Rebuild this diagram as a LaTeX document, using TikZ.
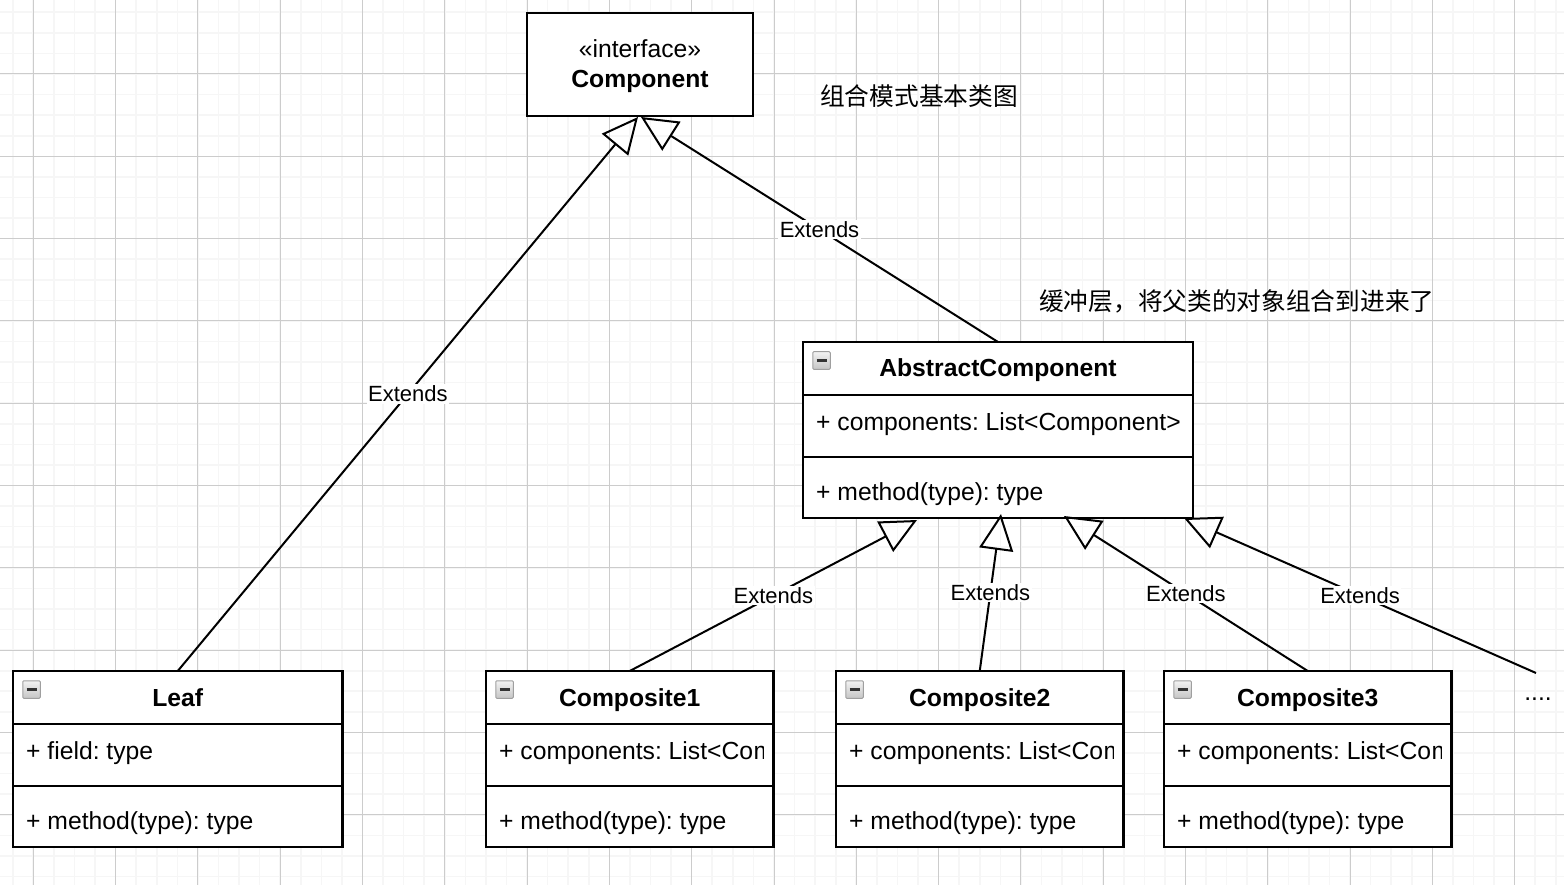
\documentclass[tikz,border=0pt]{standalone}
\usepackage{fontspec}
\setmainfont{Liberation Sans}
\newfontfamily\cjk{Noto Sans CJK SC}
\usetikzlibrary{arrows.meta,calc}
\frenchspacing
\tikzset{
  minorgrid/.style={line width=1.6pt, color=gray!7},
  majorgrid/.style={line width=1pt, color=gray!40},
  classbox/.style={draw, line width=2.3pt, fill=white, rectangle, inner sep=0pt, outer sep=0pt, anchor=north west, minimum height=176pt},
  divider/.style={line width=2.3pt},
  hdr/.style={font=\fontsize{24.7}{29}\selectfont\bfseries, inner sep=0pt, anchor=base},
  member/.style={font=\fontsize{24.7}{29}\selectfont, inner sep=0pt, anchor=base west},
  plain/.style={font=\fontsize{24.7}{29}\selectfont, inner sep=0pt, anchor=base},
  icon/.style={rectangle, draw=gray!75, line width=1pt, top color=gray!10, bottom color=gray!45, minimum width=17.5pt, minimum height=17.5pt, inner sep=0pt, rounded corners=1pt,
    path picture={\draw[line width=2.2pt, black!80] ([xshift=-5pt]path picture bounding box.center) -- ([xshift=5pt]path picture bounding box.center);}},
  ext/.style={line width=2pt, -{Triangle[open, length=36pt, width=34pt]}},
  lbl/.style={fill=white, inner sep=1.5pt, font=\fontsize{22}{26}\selectfont},
  note/.style={font=\cjk\fontsize{24.7}{29}\selectfont, inner sep=0pt, anchor=west},
}
\newcommand\umlclass[7]{%
  \node[classbox, minimum width=#4pt] (#1) at (#2,#3) {};
  \draw[divider] ($(#1.north west)+(0,53)$) -- ($(#1.north east)+(0,53)$);
  \draw[divider] ($(#1.north west)+(0,115)$) -- ($(#1.north east)+(0,115)$);
  \node[icon] (#1-icon) at ($(#1.north west)+(18.5,18.5)$) {};
  \node[hdr] (#1-title) at ($(#1.north)+(0,35)$) {#5};
  \node[member] (#1-attr) at ($(#1.north west)+(13,88)$) {#6};
  \node[member] (#1-meth) at ($(#1.north west)+(13,158.5)$) {#7};
}
\newcommand\clippedtail[2]{%
  \begin{scope}
    \clip ($(#1.north west)+(0,53)$) rectangle ($(#1.south east)+(-10,-61)$);
    \node[member] (#1-tail) at (#1-attr.base east) {#2};
  \end{scope}
}
\begin{document}
\begin{tikzpicture}[x=1pt, y=-1pt]
\useasboundingbox (0,0) rectangle (1564,885);
% background grid
\fill[white] (0,0) rectangle (1564,885);
\begin{scope}
  \clip (0,0) rectangle (1564,885);
  \foreach \i in {0,...,76} {\draw[minorgrid] (12.7+\i*20.575,0) -- (12.7+\i*20.575,885);}
  \foreach \i in {0,...,43} {\draw[minorgrid] (0,12.3+\i*20.575) -- (1564,12.3+\i*20.575);}
  \foreach \i in {0,...,18} {\draw[majorgrid] (33.3+\i*82.3,0) -- (33.3+\i*82.3,885);}
  \foreach \i in {0,...,10} {\draw[majorgrid] (0,74+\i*82.3) -- (1564,74+\i*82.3);}
\end{scope}

% interface
\node[draw, line width=2.3pt, fill=white, rectangle, inner sep=0pt, outer sep=0pt, anchor=north west, minimum width=226pt, minimum height=103pt] (comp) at (527,13) {};
\node[plain] (comp-st) at (640,58) {«interface»};
\node[hdr] (comp-name) at (640,88) {Component};

% notes
\node[note] (title) at (820,96) {组合模式基本类图};
\node[note] (buffer) at (1039,301) {缓冲层，将父类的对象组合到进来了};

% classes
\umlclass{abs}{803}{342}{390}{AbstractComponent}{+ components: List<Component>}{+ method(type): type}
\umlclass{leaf}{13}{671}{329.5}{Leaf}{+ field: type}{+ method(type): type}
\umlclass{c1}{486}{671}{287.5}{Composite1}{+ components: List<Co}{+ method(type): type}
\clippedtail{c1}{m}
\umlclass{c2}{836}{671}{287.5}{Composite2}{+ components: List<Co}{+ method(type): type}
\clippedtail{c2}{m}
\umlclass{c3}{1164}{671}{287.5}{Composite3}{+ components: List<Co}{+ method(type): type}
\clippedtail{c3}{m}

\node[plain] (dots) at (1538,700) {....};
\coordinate (dend) at (1536,673);

% connector end points
\coordinate (ct1) at ($(comp.south)+(-2,1)$);
\coordinate (ct2) at ($(comp.south)+(1,1)$);
\coordinate (at1) at ($(abs.south west)+(114,2)$);
\coordinate (at2) at ($(abs.south west)+(198,-4)$);
\coordinate (at3) at ($(abs.south west)+(261,-2)$);
\coordinate (at4) at ($(abs.south west)+(381,0)$);

% connectors
\draw[ext] (leaf.north) -- (ct1) node[lbl, pos=0.5] (e1) {Extends};
\draw[ext] (abs.north) -- (ct2) node[lbl, pos=0.5] (e2) {Extends};
\draw[ext] (c1.north) -- (at1) node[lbl, pos=0.5] (e3) {Extends};
\draw[ext] (c2.north) -- (at2) node[lbl, pos=0.5] (e4) {Extends};
\draw[ext] (c3.north) -- (at3) node[lbl, pos=0.5] (e5) {Extends};
\draw[ext] (dend) -- (at4) node[lbl, pos=0.5] (e6) {Extends};
\end{tikzpicture}
\end{document}
